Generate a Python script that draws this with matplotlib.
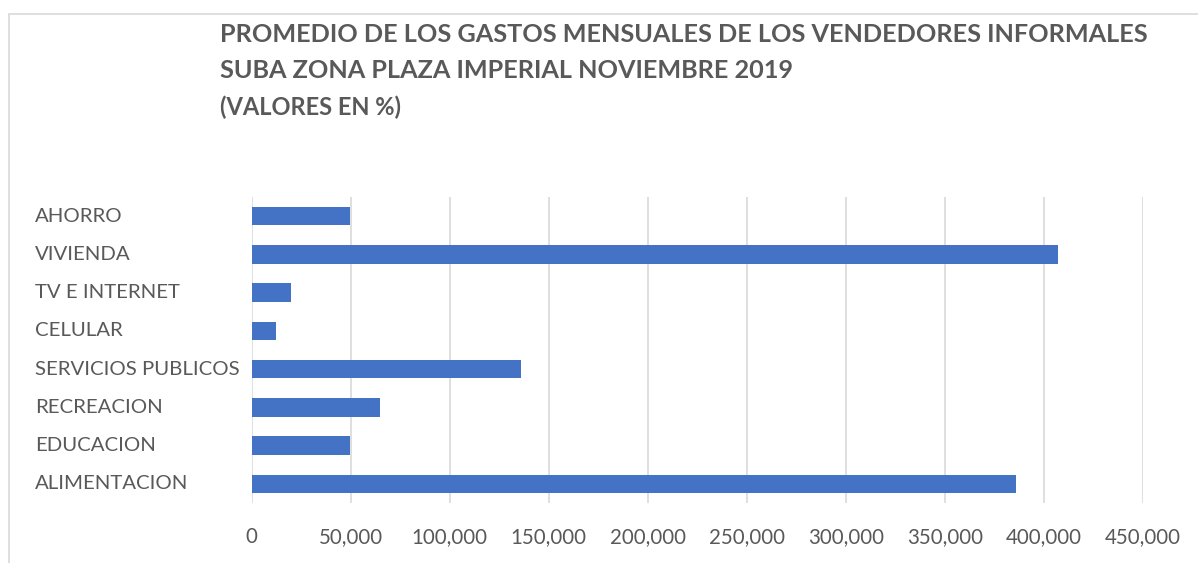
import matplotlib.pyplot as plt
from matplotlib.patches import Rectangle
from matplotlib.ticker import FuncFormatter

# data (pesos, bottom to top)
categorias = ['ALIMENTACION', 'EDUCACION', 'RECREACION', 'SERVICIOS PUBLICOS',
              'CELULAR', 'TV E INTERNET', 'VIVIENDA', 'AHORRO']
gastos = [386000, 49500, 65000, 136000, 12500, 20000, 407000, 49500]
xticks = [0, 50000, 100000, 150000, 200000, 250000, 300000, 350000, 400000, 450000]

titulo = ['PROMEDIO DE LOS GASTOS MENSUALES DE LOS VENDEDORES INFORMALES',
          'SUBA ZONA PLAZA IMPERIAL NOVIEMBRE 2019',
          '(VALORES EN %)']

gris = '#595959'
plt.rcParams['font.family'] = ['Lato', 'DejaVu Sans']

W, H = 1198, 563
fig = plt.figure(figsize=(W / 100, H / 100), dpi=100)

# light frame of the chart area (top and left edges visible)
fig.patches.append(Rectangle((9 / W, -0.1), 1.2, 1 - 14 / H + 0.1, transform=fig.transFigure,
                             fill=False, edgecolor='#d9d9d9', lw=1.2))

ax = fig.add_axes([251.7 / W, 1 - 503 / H, (1142.7 - 251.7) / W, (503 - 197) / H])
y = range(len(categorias))
ax.barh(y, gastos, height=0.48, color='#4472C4', zorder=3)
ax.set_xlim(0, 450000)
ax.set_ylim(-0.5, len(categorias) - 0.5)
ax.set_xticks(xticks)
ax.xaxis.set_major_formatter(FuncFormatter(lambda v, p: f'{int(v):,}'))
ax.tick_params(axis='x', length=0, pad=17, labelsize=14.8, labelcolor=gris)
ax.set_yticks([])
ax.grid(axis='x', color='#d9d9d9', lw=1.2, zorder=0)
for s in ax.spines.values():
    s.set_visible(False)

for i, c in enumerate(categorias):
    ax.text((35 - 251.7) / (1142.7 - 251.7), i, c, transform=ax.get_yaxis_transform(),
            ha='left', va='center', fontsize=14.7, color=gris)

for k, (t, yy) in enumerate(zip(titulo, [34, 71, 107])):
    fig.text(220 / W, 1 - yy / H, t, ha='left', va='center', color=gris,
             fontsize=18.2 if k < 2 else 17, fontweight='bold')

fig.savefig('out.png', dpi=100, facecolor='white')
